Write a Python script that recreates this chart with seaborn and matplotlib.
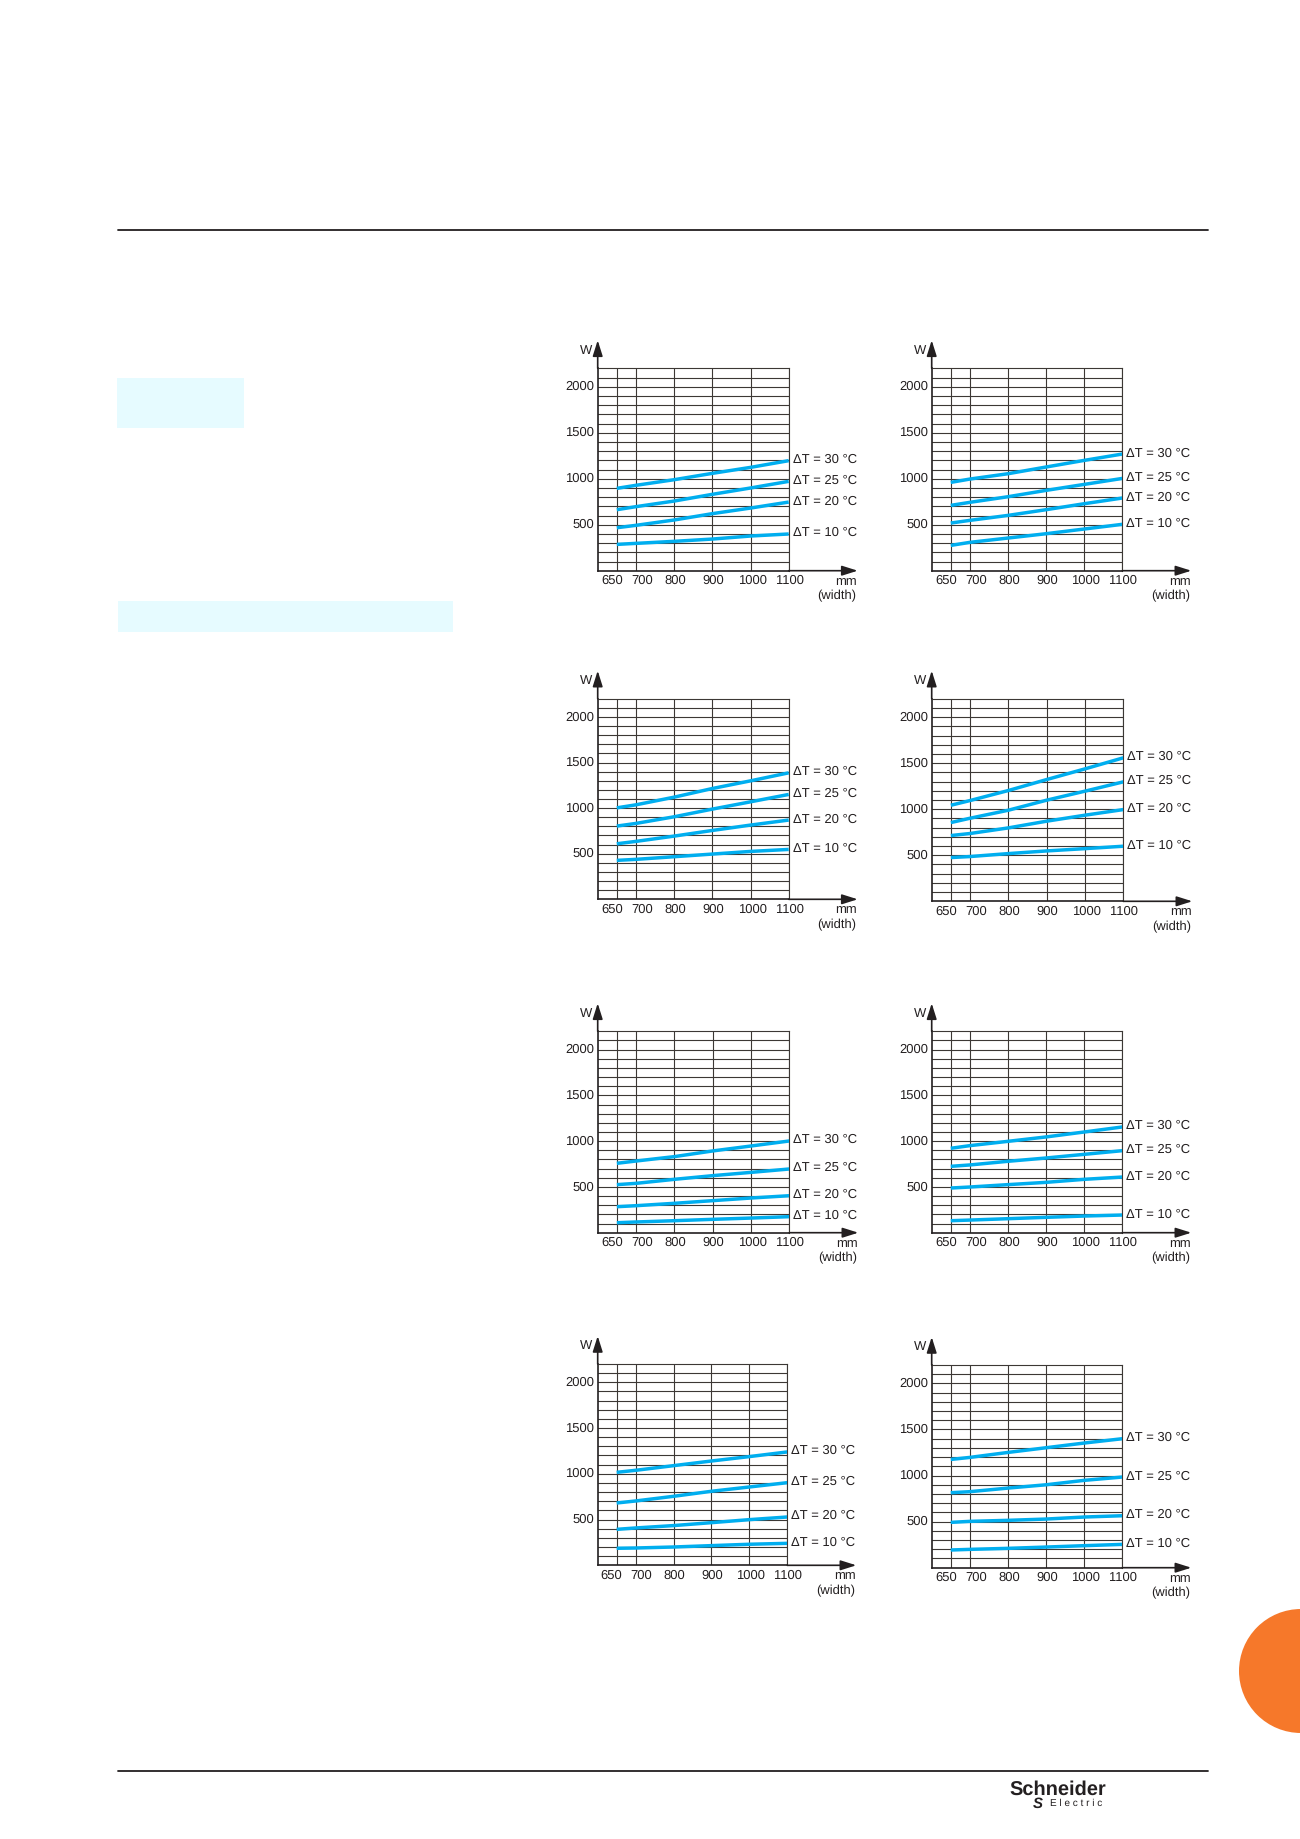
import matplotlib
matplotlib.use("Agg")
import pandas as pd
import seaborn as sns
import matplotlib.pyplot as plt
from matplotlib.patches import Rectangle, Circle
from matplotlib.transforms import ScaledTranslation

# Data (W)
widths = [650, 700, 800, 900, 1000, 1100]
series_names = ["ΔT = 30 °C", "ΔT = 25 °C", "ΔT = 20 °C", "ΔT = 10 °C"]
y_tick_values = [500, 1000, 1500, 2000]

p1_30 = [895, 928, 989, 1058, 1123, 1196]
p1_25 = [663, 696, 757, 830, 899, 971]
p1_20 = [467, 493, 551, 620, 681, 746]
p1_10 = [286, 297, 319, 344, 377, 399]

p2_30 = [960, 996, 1054, 1127, 1199, 1268]
p2_25 = [710, 743, 804, 873, 938, 1003]
p2_20 = [518, 547, 601, 663, 728, 790]
p2_10 = [275, 308, 355, 402, 453, 504]

p3_30 = [1003, 1036, 1120, 1215, 1299, 1387]
p3_25 = [803, 832, 905, 989, 1069, 1150]
p3_20 = [609, 635, 693, 755, 814, 869]
p3_10 = [427, 438, 467, 496, 525, 547]

p4_30 = [1043, 1094, 1203, 1322, 1438, 1558]
p4_25 = [855, 902, 989, 1098, 1196, 1297]
p4_20 = [714, 736, 797, 870, 935, 996]
p4_10 = [475, 486, 518, 547, 572, 598]

p5_30 = [758, 783, 831, 893, 947, 1002]
p5_25 = [525, 539, 583, 623, 659, 696]
p5_20 = [284, 295, 321, 350, 379, 404]
p5_10 = [109, 117, 131, 146, 160, 175]

p6_30 = [922, 951, 998, 1046, 1100, 1155]
p6_25 = [725, 740, 780, 816, 856, 896]
p6_20 = [488, 499, 525, 550, 583, 608]
p6_10 = [131, 138, 153, 168, 182, 193]

p7_30 = [1016, 1038, 1089, 1140, 1188, 1239]
p7_25 = [681, 703, 754, 809, 856, 903]
p7_20 = [393, 408, 434, 466, 499, 528]
p7_10 = [186, 189, 200, 215, 230, 240]

p8_30 = [1175, 1197, 1251, 1302, 1353, 1400]
p8_25 = [814, 825, 864, 900, 948, 984]
p8_20 = [492, 503, 514, 528, 550, 564]
p8_10 = [192, 199, 210, 224, 239, 253]

panels = [
    [p1_30, p1_25, p1_20, p1_10],
    [p2_30, p2_25, p2_20, p2_10],
    [p3_30, p3_25, p3_20, p3_10],
    [p4_30, p4_25, p4_20, p4_10],
    [p5_30, p5_25, p5_20, p5_10],
    [p6_30, p6_25, p6_20, p6_10],
    [p7_30, p7_25, p7_20, p7_10],
    [p8_30, p8_25, p8_20, p8_10],
]

# left, right, top, bottom of each plot, in pixels
boxes = [
    (597.7, 788.7, 368.3, 570.7),
    (931.7, 1122.3, 368.3, 570.7),
    (597.7, 788.7, 698.7, 899.3),
    (931.7, 1123.3, 698.7, 901.3),
    (597.7, 789.3, 1031.3, 1232.7),
    (931.7, 1122.3, 1031.3, 1232.7),
    (597.7, 787.3, 1364.0, 1565.3),
    (931.7, 1122.3, 1365.0, 1567.7),
]
# the 650 and 700 labels are pushed apart in the original
label_shift = [-5, 6, 1, 1, 1.5, 0.5]

W, H = 1300, 1839
INK = "#231f20"
GRID = "#3c3835"
BLUE = "#00aeef"
PX = 0.72  # points per pixel at dpi 100
FONT = 9.45

sns.set_style("white")
plt.rcParams["font.family"] = ["Liberation Sans", "DejaVu Sans"]
plt.rcParams["font.size"] = FONT
plt.rcParams["text.color"] = INK
plt.rcParams["text.hinting"] = "no_hinting"
plt.rcParams["text.hinting_factor"] = 1

fig = plt.figure(figsize=(W / 100, H / 100), dpi=100, facecolor="white")

# Page furniture
page = fig.add_axes([0, 0, 1, 1], zorder=0)
page.set_xlim(0, W)
page.set_ylim(H, 0)
page.axis("off")
page.add_patch(Rectangle((117, 378), 127, 50, color="#e6fbff", lw=0))
page.add_patch(Rectangle((118, 601), 335, 31, color="#e6fbff", lw=0))
page.add_patch(Circle((1301, 1671), 62, color="#f6782a", lw=0))
page.plot([118, 1208], [230, 230], color=INK, lw=1.3)
page.plot([118, 1208], [1771, 1771], color=INK, lw=1.3)
page.text(1009, 1790, "Schneider", fontsize=14.4, fontweight="bold", va="center", ha="left")
page.text(1033, 1804, "S", fontsize=11, fontweight="bold", fontstyle="italic", va="center", ha="left")
page.text(1050, 1803, "E l e c t r i c", fontsize=7, va="center", ha="left")

for values, (left, right, top, bottom) in zip(panels, boxes):
    ax = fig.add_axes([left / W, 1 - bottom / H, (right - left) / W, (bottom - top) / H], zorder=1)
    ax.patch.set_alpha(0)

    rows = []
    for name, ys in zip(series_names, values):
        rows.append(pd.DataFrame({"width": widths, "watts": ys, "series": name}))
    df = pd.concat(rows)
    sns.lineplot(data=df, x="width", y="watts", hue="series", palette=[BLUE] * 4, legend=False,
                 linewidth=2.5, errorbar=None, solid_capstyle="butt", ax=ax, zorder=3)

    ax.set_xlim(600, 1100)
    ax.set_ylim(0, 2200)
    ax.set_xlabel("")
    ax.set_ylabel("")
    ax.set_xticks(widths)
    ax.set_xticklabels([str(w) for w in widths])
    ax.set_yticks(y_tick_values)
    ax.set_yticks(range(100, 2200, 100), minor=True)
    ax.grid(True, which="both", color=GRID, lw=0.8)
    ax.set_axisbelow(True)
    ax.tick_params(which="both", length=0)
    ax.tick_params(axis="x", pad=3.0, labelsize=FONT, colors=INK)
    ax.tick_params(axis="y", pad=2.6, labelsize=FONT, colors=INK)
    for lab, dx in zip(ax.get_xticklabels(), label_shift):
        lab.set_transform(lab.get_transform() + ScaledTranslation(dx * PX / 72, 0, fig.dpi_scale_trans))
    for lab in ax.get_yticklabels():
        lab.set_transform(lab.get_transform() + ScaledTranslation(0, 1.2 * PX / 72, fig.dpi_scale_trans))

    for side in ["top", "right"]:
        ax.spines[side].set_color(GRID)
        ax.spines[side].set_linewidth(0.8)
    for side in ["left", "bottom"]:
        ax.spines[side].set_color(INK)
        ax.spines[side].set_linewidth(1.2)

    # Axis arrows run past the plot box
    box_w, box_h = right - left, bottom - top
    head = dict(arrowstyle="-|>,head_length=0.95,head_width=0.3", color=INK, lw=1.2,
                shrinkA=0, shrinkB=0, mutation_scale=10)
    ax.annotate("", xy=(1 + 69 / box_w, 0), xytext=(1, 0), xycoords="axes fraction",
                textcoords="axes fraction", arrowprops=head, annotation_clip=False)
    ax.annotate("", xy=(0, 1 + 28 / box_h), xytext=(0, 1), xycoords="axes fraction",
                textcoords="axes fraction", arrowprops=head, annotation_clip=False)

    ax.annotate("W", xy=(0, 1), xycoords="axes fraction", xytext=(-11.5 * PX, 18 * PX),
                textcoords="offset points", ha="center", va="center")
    ax.annotate("mm", xy=(1, 0), xycoords="axes fraction", xytext=(68 * PX, -10.5 * PX),
                textcoords="offset points", ha="right", va="center")
    ax.annotate("(width)", xy=(1, 0), xycoords="axes fraction", xytext=(68 * PX, -25.5 * PX),
                textcoords="offset points", ha="right", va="center")

    # Curve names sit at the right-hand end of each line
    for name, ys in zip(series_names, values):
        ax.annotate(name, xy=(widths[-1], ys[-1]), xytext=(4 * PX, 1 * PX), textcoords="offset points",
                    ha="left", va="center", annotation_clip=False)

fig.savefig("out.png", dpi=100, facecolor="white")
